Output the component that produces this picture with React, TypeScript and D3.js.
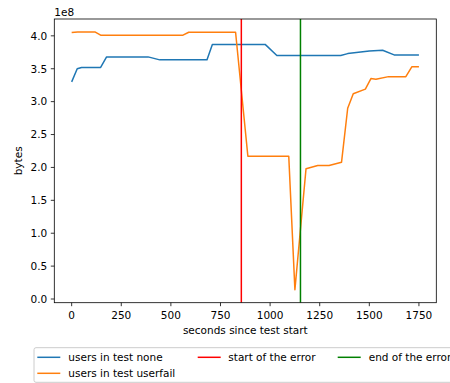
import React from "react";
import * as d3 from "d3";

// Memory usage (bytes) per scenario, sampled over the test run
const noneTimes = [0, 28, 50, 146, 176, 385, 444, 682, 709, 975, 1034, 1356, 1391, 1500, 1567, 1625, 1750];
const noneBytes = [3.30e8, 3.50e8, 3.52e8, 3.52e8, 3.68e8, 3.68e8, 3.635e8, 3.635e8, 3.87e8, 3.87e8, 3.70e8, 3.70e8, 3.73e8, 3.77e8, 3.78e8, 3.71e8, 3.71e8];

const userfailTimes = [0, 30, 117, 146, 561, 590, 826, 888, 1094, 1125, 1181, 1240, 1297, 1360, 1391, 1419, 1480, 1508, 1533, 1597, 1684, 1714, 1750];
const userfailBytes = [4.05e8, 4.06e8, 4.06e8, 4.01e8, 4.01e8, 4.055e8, 4.055e8, 2.17e8, 2.17e8, 0.14e8, 1.98e8, 2.03e8, 2.03e8, 2.08e8, 2.90e8, 3.12e8, 3.19e8, 3.35e8, 3.34e8, 3.38e8, 3.38e8, 3.53e8, 3.53e8];

const errorStart = 855;
const errorEnd = 1153;

const xTicks = [0, 250, 500, 750, 1000, 1250, 1500, 1750];
const yTicks = [0, 0.5e8, 1e8, 1.5e8, 2e8, 2.5e8, 3e8, 3.5e8, 4e8];

const legendLabels = ["users in test none", "users in test userfail", "start of the error", "end of the error"];

const W = 450;
const H = 383;
const plot = { left: 54.3, right: 436.3, top: 19, bottom: 302.7 };
const font = "'DejaVu Sans', sans-serif";
const fs = 10.5;

export default function App() {
  const allT = [...noneTimes, ...userfailTimes];
  const allV = [...noneBytes, ...userfailBytes];
  const [t0, t1] = d3.extent(allT) as [number, number];
  const [v0, v1] = d3.extent(allV) as [number, number];
  const tm = (t1 - t0) * 0.05;
  const vm = (v1 - v0) * 0.05;

  const x = d3.scaleLinear().domain([t0 - tm, t1 + tm]).range([plot.left, plot.right]);
  const y = d3.scaleLinear().domain([v0 - vm, v1 + vm]).range([plot.bottom, plot.top]);

  const line = d3
    .line<[number, number]>()
    .x((d) => x(d[0]))
    .y((d) => y(d[1]));

  const noneData = noneTimes.map((t, i) => [t, noneBytes[i]] as [number, number]);
  const failData = userfailTimes.map((t, i) => [t, userfailBytes[i]] as [number, number]);

  const colors = ["#1f77b4", "#ff7f0e", "#ff0000", "#008000"];
  const legendItems = [
    { label: legendLabels[0], color: colors[0], hx: 37.3, tx: 68.3, ty: 357.3 },
    { label: legendLabels[1], color: colors[1], hx: 37.3, tx: 68.3, ty: 373.3 },
    { label: legendLabels[2], color: colors[2], hx: 197.7, tx: 228.3, ty: 357.3 },
    { label: legendLabels[3], color: colors[3], hx: 337.7, tx: 368.7, ty: 357.3 },
  ];

  return (
    <svg
      width={W}
      height={H}
      style={{ position: "absolute", left: 0, top: 0, background: "#fff" }}
      fontFamily={font}
    >
      <rect x={0} y={0} width={W} height={H} fill="#fff" />
      <defs>
        <clipPath id="plotClip">
          <rect x={plot.left} y={plot.top} width={plot.right - plot.left} height={plot.bottom - plot.top} />
        </clipPath>
      </defs>

      <g clipPath="url(#plotClip)">
        <path d={line(noneData) ?? ""} fill="none" stroke={colors[0]} strokeWidth={1.5} strokeLinejoin="round" />
        <path d={line(failData) ?? ""} fill="none" stroke={colors[1]} strokeWidth={1.5} strokeLinejoin="round" />
        <line x1={x(errorStart)} x2={x(errorStart)} y1={plot.top} y2={plot.bottom} stroke={colors[2]} strokeWidth={1.5} />
        <line x1={x(errorEnd)} x2={x(errorEnd)} y1={plot.top} y2={plot.bottom} stroke={colors[3]} strokeWidth={1.5} />
      </g>

      {/* frame */}
      <rect
        x={plot.left}
        y={plot.top}
        width={plot.right - plot.left}
        height={plot.bottom - plot.top}
        fill="none"
        stroke="#000"
        strokeWidth={0.8}
      />

      {/* x axis */}
      {xTicks.map((t) => (
        <g key={"x" + t}>
          <line x1={x(t)} x2={x(t)} y1={plot.bottom} y2={plot.bottom + 3.5} stroke="#000" strokeWidth={0.8} />
          <text x={x(t)} y={319.3} fontSize={fs} textAnchor="middle" fill="#000">
            {t}
          </text>
        </g>
      ))}
      <text x={(plot.left + plot.right) / 2} y={333.5} fontSize={fs} textAnchor="middle" fill="#000">
        seconds since test start
      </text>

      {/* y axis */}
      {yTicks.map((v) => (
        <g key={"y" + v}>
          <line x1={plot.left - 3.5} x2={plot.left} y1={y(v)} y2={y(v)} stroke="#000" strokeWidth={0.8} />
          <text x={plot.left - 7} y={y(v) + 3.8} fontSize={fs} textAnchor="end" fill="#000">
            {(v / 1e8).toFixed(1)}
          </text>
        </g>
      ))}
      <text x={plot.left} y={16} fontSize={fs} fill="#000">
        1e8
      </text>
      <text
        transform={`translate(22, ${(plot.top + plot.bottom) / 2}) rotate(-90)`}
        fontSize={fs}
        textAnchor="middle"
        fill="#000"
      >
        bytes
      </text>

      {/* legend */}
      <rect x={34} y={347.7} width={430} height={34.6} rx={2} fill="#fff" fillOpacity={0.8} stroke="#cccccc" strokeWidth={1} />
      {legendItems.map((it) => (
        <g key={it.label}>
          <line x1={it.hx} x2={it.hx + 23} y1={it.ty} y2={it.ty} stroke={it.color} strokeWidth={1.5} />
          <text x={it.tx} y={it.ty + 3.8} fontSize={fs} fill="#000">
            {it.label}
          </text>
        </g>
      ))}
    </svg>
  );
}
